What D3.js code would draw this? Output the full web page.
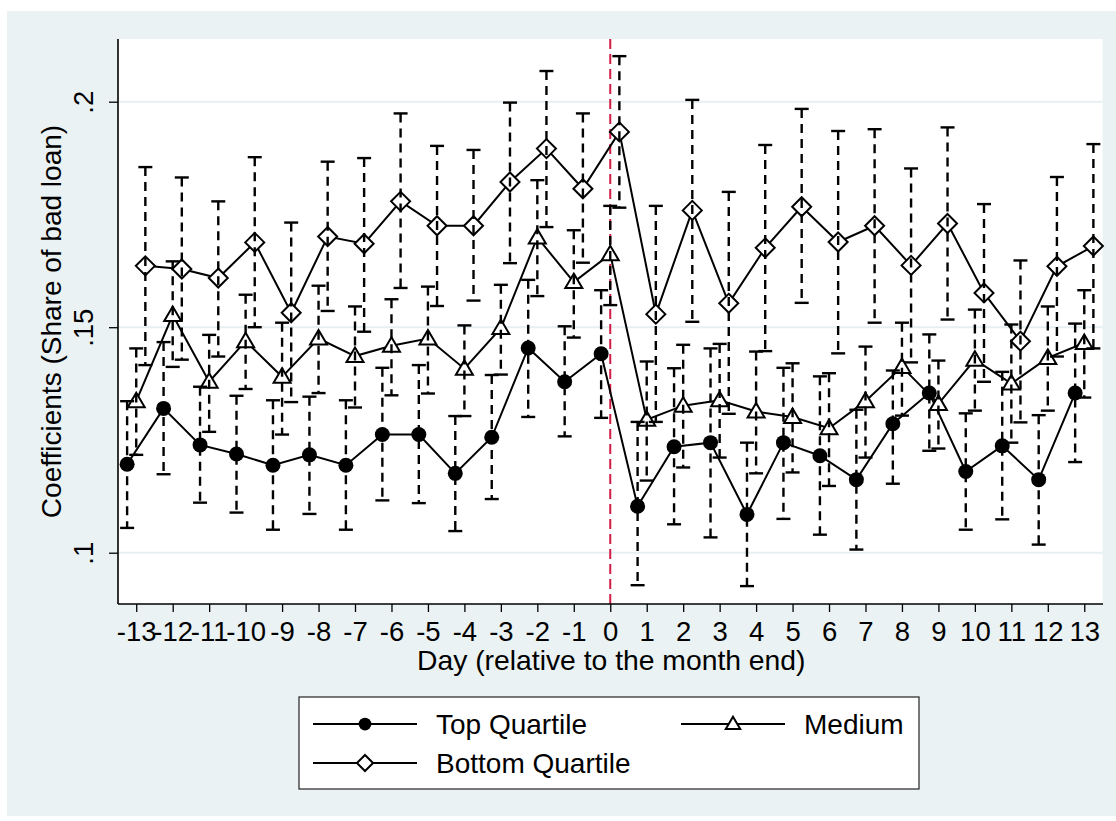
<!DOCTYPE html>
<html><head><meta charset="utf-8">
<script src="https://cdn.jsdelivr.net/npm/d3@7"></script>
<style>html,body{margin:0;padding:0;background:#fff;} svg{display:block;}</style>
</head><body><svg id="c" width="1116" height="821"></svg>
<script>
// ---------- data ----------
const days = [-13,-12,-11,-10,-9,-8,-7,-6,-5,-4,-3,-2,-1,0,1,2,3,4,5,6,7,8,9,10,11,12,13];
const xTickLabels = ["-13","-12","-11","-10","-9","-8","-7","-6","-5","-4","-3","-2","-1","0","1","2","3","4","5","6","7","8","9","10","11","12","13"];

const topEst = [0.1196,0.1320,0.1239,0.1219,0.1194,0.1217,0.1194,0.1262,0.1262,0.1176,0.1256,0.1454,0.1379,0.1441,0.1103,0.1235,0.1244,0.1085,0.1244,0.1215,0.1162,0.1286,0.1354,0.1180,0.1237,0.1162,0.1354];
const topLo  = [0.1055,0.1174,0.1111,0.1089,0.1051,0.1086,0.1051,0.1116,0.1110,0.1048,0.1119,0.1301,0.1258,0.1299,0.0928,0.1063,0.1034,0.0926,0.1075,0.1040,0.1007,0.1153,0.1226,0.1051,0.1074,0.1018,0.1201];
const topHi  = [0.1336,0.1467,0.1368,0.1348,0.1338,0.1346,0.1338,0.1410,0.1416,0.1303,0.1394,0.1605,0.1502,0.1582,0.1290,0.1409,0.1453,0.1244,0.1410,0.1391,0.1317,0.1404,0.1484,0.1309,0.1401,0.1305,0.1508];

const medEst = [0.1336,0.1527,0.1379,0.1469,0.1390,0.1475,0.1436,0.1459,0.1475,0.1408,0.1498,0.1699,0.1600,0.1662,0.1295,0.1326,0.1338,0.1313,0.1301,0.1276,0.1336,0.1412,0.1330,0.1428,0.1375,0.1432,0.1465];
const medLo  = [0.1217,0.1412,0.1268,0.1363,0.1262,0.1354,0.1322,0.1349,0.1353,0.1303,0.1395,0.1569,0.1477,0.1549,0.1160,0.1189,0.1211,0.1176,0.1178,0.1148,0.1211,0.1304,0.1231,0.1315,0.1244,0.1315,0.1344];
const medHi  = [0.1453,0.1646,0.1483,0.1572,0.1510,0.1592,0.1546,0.1562,0.1590,0.1504,0.1594,0.1826,0.1715,0.1769,0.1424,0.1461,0.1463,0.1446,0.1420,0.1398,0.1457,0.1510,0.1426,0.1539,0.1506,0.1546,0.1582];

const botEst = [0.1636,0.1629,0.1609,0.1688,0.1532,0.1701,0.1685,0.1779,0.1725,0.1725,0.1822,0.1896,0.1807,0.1933,0.1529,0.1759,0.1553,0.1676,0.1767,0.1689,0.1725,0.1637,0.1730,0.1576,0.1469,0.1635,0.1680];
const botLo  = [0.1416,0.1428,0.1435,0.1500,0.1334,0.1536,0.1490,0.1587,0.1547,0.1559,0.1642,0.1722,0.1643,0.1765,0.1290,0.1512,0.1308,0.1447,0.1554,0.1442,0.1510,0.1422,0.1517,0.1379,0.1289,0.1435,0.1453];
const botHi  = [0.1855,0.1832,0.1779,0.1877,0.1732,0.1867,0.1875,0.1974,0.1902,0.1893,0.1998,0.2068,0.1974,0.2101,0.1769,0.2004,0.1800,0.1904,0.1984,0.1935,0.1939,0.1852,0.1943,0.1773,0.1648,0.1833,0.1906];

const seriesNames = ["Top Quartile","Medium","Bottom Quartile"];
const seriesOffsets = [-0.25, 0, 0.25];
const yTicks = [0.1, 0.15, 0.2];
const yTickLabels = [".1", ".15", ".2"];
const xTitle = "Day (relative to the month end)";
const yTitle = "Coefficients (Share of bad loan)";
const refDay = 0;

// ---------- layout ----------
const FONT = "'Liberation Sans', Arial, sans-serif";
const BG = "#eaf2f3";
const plot = {left:118, right:1102.5, top:39, bottom:604};
const svg = d3.select("#c");

svg.append("rect").attr("x",7).attr("y",11).attr("width",1109).attr("height",805).attr("fill",BG);
svg.append("rect").attr("x",plot.left).attr("y",plot.top).attr("width",plot.right-plot.left).attr("height",plot.bottom-plot.top).attr("fill","#fff");

const x = d3.scaleLinear().domain([-13.5, 13.5]).range([plot.left, plot.right]);
const y = d3.scaleLinear().domain([0.08863, 0.21390]).range([plot.bottom, plot.top]);

// grid
svg.append("g").selectAll("line").data(yTicks).join("line")
  .attr("x1",plot.left).attr("x2",plot.right)
  .attr("y1",d=>y(d)).attr("y2",d=>y(d))
  .attr("stroke","#e6eff1").attr("stroke-width",2);

// reference line
svg.append("line").attr("x1",x(refDay)).attr("x2",x(refDay))
  .attr("y1",plot.top).attr("y2",plot.bottom)
  .attr("stroke","#cf1d45").attr("stroke-width",2).attr("stroke-dasharray","10,5");

// series
const series = [
  {name:seriesNames[0], est:topEst, lo:topLo, hi:topHi, off:seriesOffsets[0], sym:"circle"},
  {name:seriesNames[1], est:medEst, lo:medLo, hi:medHi, off:seriesOffsets[1], sym:"triangle"},
  {name:seriesNames[2], est:botEst, lo:botLo, hi:botHi, off:seriesOffsets[2], sym:"diamond"}
];

function marker(g, sym, cx, cy, k){
  k = k || 1;
  if(sym==="circle"){
    g.append("circle").attr("cx",cx).attr("cy",cy).attr("r",7.5*k).attr("fill","#000");
  } else if(sym==="triangle"){
    const a=8.5*k, b=6*k;
    g.append("path").attr("d",`M${cx},${cy-a}L${cx+a},${cy+b}L${cx-a},${cy+b}Z`)
      .attr("fill","#fff").attr("stroke","#000").attr("stroke-width",2).attr("stroke-linejoin","miter");
  } else {
    const a=9.5*k;
    g.append("path").attr("d",`M${cx},${cy-a}L${cx+a},${cy}L${cx},${cy+a}L${cx-a},${cy}Z`)
      .attr("fill","#fff").attr("stroke","#000").attr("stroke-width",2);
  }
}

const line = d3.line();
const gSeries = svg.append("g");
series.forEach(s=>{
  const pts = days.map((d,i)=>[x(d+s.off), y(s.est[i])]);
  gSeries.append("path").attr("d",line(pts)).attr("fill","none").attr("stroke","#000").attr("stroke-width",2);
  const gm = gSeries.append("g");
  pts.forEach(p=>marker(gm, s.sym, p[0], p[1]));
});

// error bars (drawn on top)
const gErr = svg.append("g").attr("stroke","#000").attr("stroke-width",2.4);
series.forEach(s=>{
  days.forEach((d,i)=>{
    const cx = x(d+s.off);
    gErr.append("line").attr("x1",cx).attr("x2",cx).attr("y1",y(s.hi[i])).attr("y2",y(s.lo[i]))
      .attr("stroke-dasharray","9,6");
    [s.lo[i], s.hi[i]].forEach(v=>{
      gErr.append("line").attr("x1",cx-7).attr("x2",cx+7).attr("y1",y(v)).attr("y2",y(v));
    });
  });
});

// axes
const xAxis = d3.axisBottom(x).tickValues(days).tickSize(8).tickSizeOuter(0).tickFormat((d,i)=>xTickLabels[i]);
const gx = svg.append("g").attr("transform",`translate(0,${plot.bottom})`).call(xAxis);
gx.select(".domain").attr("stroke","#000").attr("stroke-width",1.6).attr("d",`M${plot.left},0H${plot.right+0.5}`);
gx.selectAll(".tick line").attr("stroke","#000").attr("stroke-width",1.3);
gx.selectAll(".tick text").attr("y",37).attr("dy",null).attr("fill","#000")
  .style("font-family",FONT).style("font-size","27.5px");

const yAxis = d3.axisLeft(y).tickValues(yTicks).tickSize(9).tickSizeOuter(0).tickFormat((d,i)=>yTickLabels[i]);
const gy = svg.append("g").attr("transform",`translate(${plot.left},0)`).call(yAxis);
gy.select(".domain").attr("stroke","#000").attr("stroke-width",1.6).attr("d",`M0,${plot.top}V${plot.bottom}`);
gy.selectAll(".tick line").attr("stroke","#000").attr("stroke-width",1.3);
gy.selectAll(".tick text").attr("x",null).attr("dy",null).attr("fill","#000")
  .attr("text-anchor","middle").attr("transform","translate(-25,0) rotate(-90)")
  .style("font-family",FONT).style("font-size","27.5px");

// titles
svg.append("text").attr("x",(plot.left+plot.right)/2 + 1).attr("y",670).attr("text-anchor","middle")
  .style("font-family",FONT).style("font-size","28.3px").text(xTitle);
svg.append("text").attr("transform",`translate(61,${(plot.top+plot.bottom)/2}) rotate(-90)`).attr("text-anchor","middle")
  .style("font-family",FONT).style("font-size","28px").text(yTitle);

// legend
const lg = svg.append("g");
lg.append("rect").attr("x",299).attr("y",697).attr("width",620).attr("height",92)
  .attr("fill","#fff").attr("stroke","#333").attr("stroke-width",1.3);
const legendPos = [{x:313, y:724}, {x:681, y:724}, {x:313, y:763}];
series.forEach((s,i)=>{
  const p = legendPos[i];
  lg.append("line").attr("x1",p.x).attr("x2",p.x+104).attr("y1",p.y).attr("y2",p.y).attr("stroke","#000").attr("stroke-width",2);
  marker(lg, s.sym, p.x+52, p.y, 0.85);
  lg.append("text").attr("x",p.x+123).attr("y",p.y+10).style("font-family",FONT).style("font-size","28px").text(s.name);
});
</script></body></html>
